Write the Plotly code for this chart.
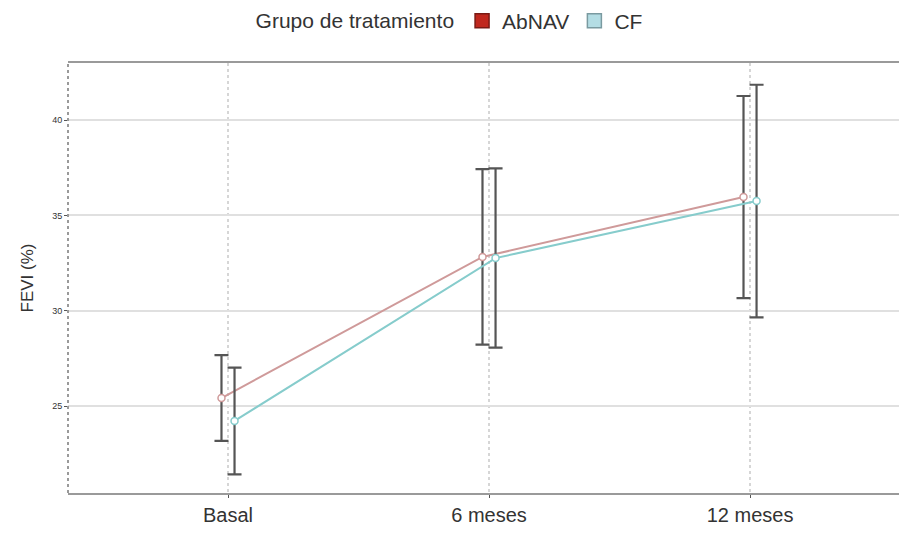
import plotly.graph_objects as go

categories = ["Basal", "6 meses", "12 meses"]
abnav_mean = [25.42, 32.82, 35.96]
abnav_err = [2.25, 4.6, 5.3]
cf_mean = [24.22, 32.76, 35.75]
cf_err = [2.8, 4.7, 6.1]
y_ticks = [25, 30, 35, 40]

DODGE = 0.025
idx = list(range(len(categories)))

FONT = "Liberation Sans, Arial, sans-serif"
fig = go.Figure()

def add_series(name, mean, err, line_color, legend_color, legend_line, offset):
    xs = [i + offset for i in idx]
    fig.add_trace(go.Scatter(
        x=xs, y=mean, mode="lines+markers", name=name, showlegend=False,
        line=dict(color=line_color, width=2),
        marker=dict(symbol="circle", size=7, color="white",
                    line=dict(color=line_color, width=1.5)),
        error_y=dict(type="data", array=err, visible=True,
                     color="#555555", thickness=2.2, width=7),
    ))
    fig.add_trace(go.Scatter(
        x=[None], y=[None], mode="markers", name=name, showlegend=True,
        marker=dict(symbol="square", size=14, color=legend_color,
                    line=dict(color=legend_line, width=1.5)),
    ))

add_series("AbNAV", abnav_mean, abnav_err, "#cf9a9a", "#c0281e", "#7a1a14", -DODGE)
add_series("CF", cf_mean, cf_err, "#86cccc", "#b4dde4", "#7a9aa0", DODGE)

# dotted gridline at 25 (overlay white then dotted)
fig.add_shape(type="line", xref="paper", x0=0, x1=1, yref="y", y0=y_ticks[0], y1=y_ticks[0],
              line=dict(color="white", width=2), layer="below")
fig.add_shape(type="line", xref="paper", x0=0, x1=1, yref="y", y0=y_ticks[0], y1=y_ticks[0],
              line=dict(color="#c8c8c8", width=1.5, dash="dot"), layer="below")
# dotted left axis line
fig.add_shape(type="line", xref="paper", x0=0, x1=0, yref="paper", y0=0, y1=1,
              line=dict(color="#9a9a9a", width=2, dash="dot"))

fig.update_layout(
    width=907, height=542,
    margin=dict(l=60, r=0, t=55, b=57),
    paper_bgcolor="white", plot_bgcolor="white",
    font=dict(family=FONT, color="#333333"),
    legend=dict(
        orientation="h", x=0.488, xanchor="center", xref="container",
        y=0.976, yref="container", yanchor="middle",
        title=dict(text="Grupo de tratamiento", font=dict(size=21, color="#333333")),
        font=dict(size=21, color="#333333"),
        tracegroupgap=0,
    ),
    xaxis=dict(
        range=[-0.613, 2.632], tickvals=idx, ticktext=categories,
        tickfont=dict(size=20, color="#333333"),
        showgrid=True, gridcolor="#d6d6d6", griddash="dot", gridwidth=1.5,
        showline=True, linecolor="#9a9a9a", linewidth=2, mirror=True,
        ticks="outside", ticklen=3, tickcolor="#555555", zeroline=False,
    ),
    yaxis=dict(
        range=[20.44, 42.99], tickvals=y_ticks,
        tickfont=dict(size=9, color="#333333"),
        title=dict(text="FEVI (%)", font=dict(size=17, color="#333333"), standoff=14),
        showgrid=True, gridcolor="#e0e0e0", gridwidth=1.5,
        showline=False, ticks="outside", ticklen=3, tickcolor="#555555",
        zeroline=False,
    ),
)

fig.write_html("out.html")
